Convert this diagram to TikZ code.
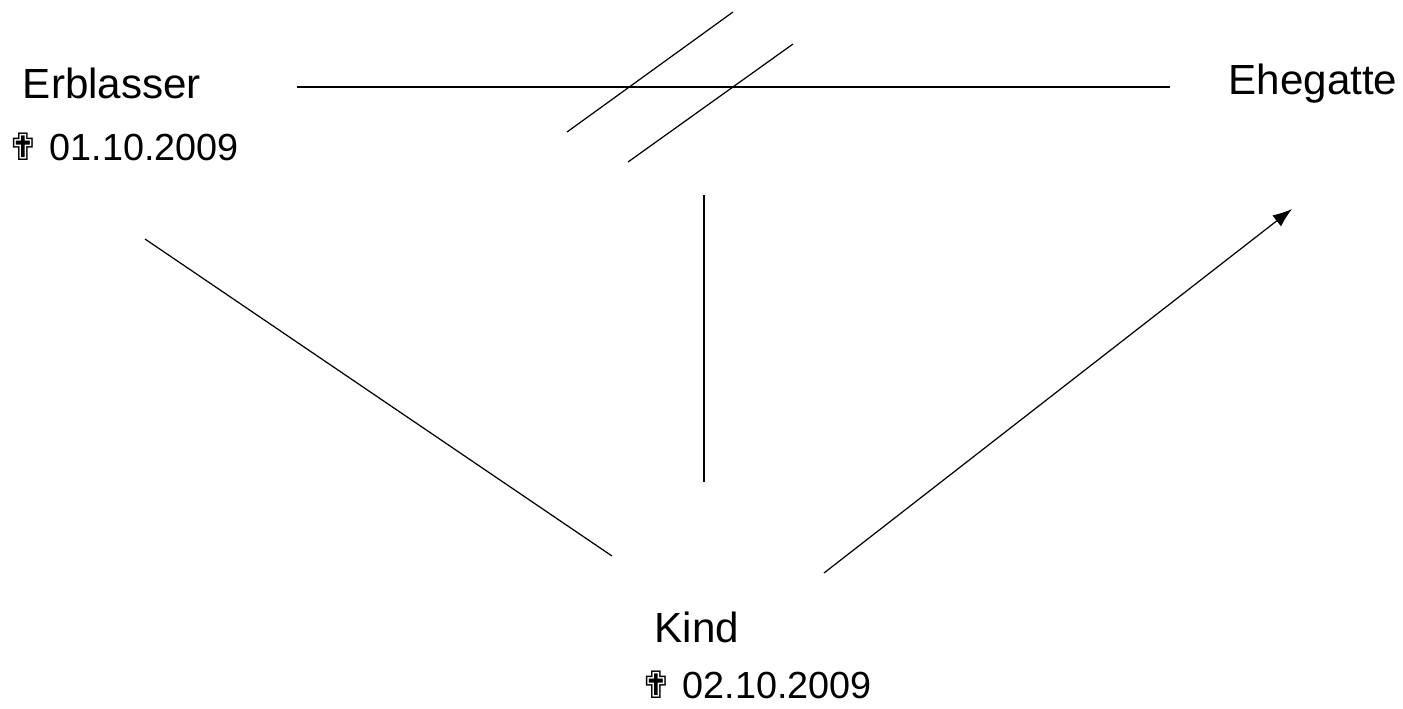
\documentclass[tikz,border=0pt]{standalone}
\usepackage{fontspec}
\setmainfont{Liberation Sans}
\newfontfamily\crossfont{DejaVu Sans}
\usetikzlibrary{arrows.meta}

\begin{document}
\begin{tikzpicture}[x=0.02cm,y=-0.02cm,
    person/.style={font=\fontsize{24}{28}\selectfont},
    datum/.style={inner sep=0pt,font=\fontsize{21.5}{25}\selectfont}]
  \useasboundingbox (0,0) rectangle (1403,708);
  % persons
  \node[person] (erbl) at (112,83) {Erblasser};
  \node[datum] (erbldate) at (123,147) {{\crossfont ✟} 01.10.2009};
  \node[person] (ehe) at (1313,84) {Ehegatte};
  \node[person] (kind) at (697,627) {Kind};
  \node[datum] (kinddate) at (756,685) {{\crossfont ✟} 02.10.2009};
  % line ends
  \coordinate (ea) at (297,87);
  \coordinate (eb) at (1170,87);
  \coordinate (va) at (704,195);
  \coordinate (vb) at (704,482);
  \coordinate (la) at (145,239);
  \coordinate (lb) at (612,556);
  \coordinate (ra) at (824,573);
  \coordinate (rb) at (1292,209);
  \draw[line width=0.7pt] (ea) -- (eb);
  % divorce strokes
  \draw[line width=0.7pt] (567,132) -- (733,12);
  \draw[line width=0.7pt] (628,162) -- (793,44);
  \draw[line width=0.7pt] (va) -- (vb);
  \draw[line width=0.7pt] (la) -- (lb);
  \draw[line width=0.7pt,-{Latex[length=11pt,width=8pt]}] (ra) -- (rb);
\end{tikzpicture}
\end{document}
